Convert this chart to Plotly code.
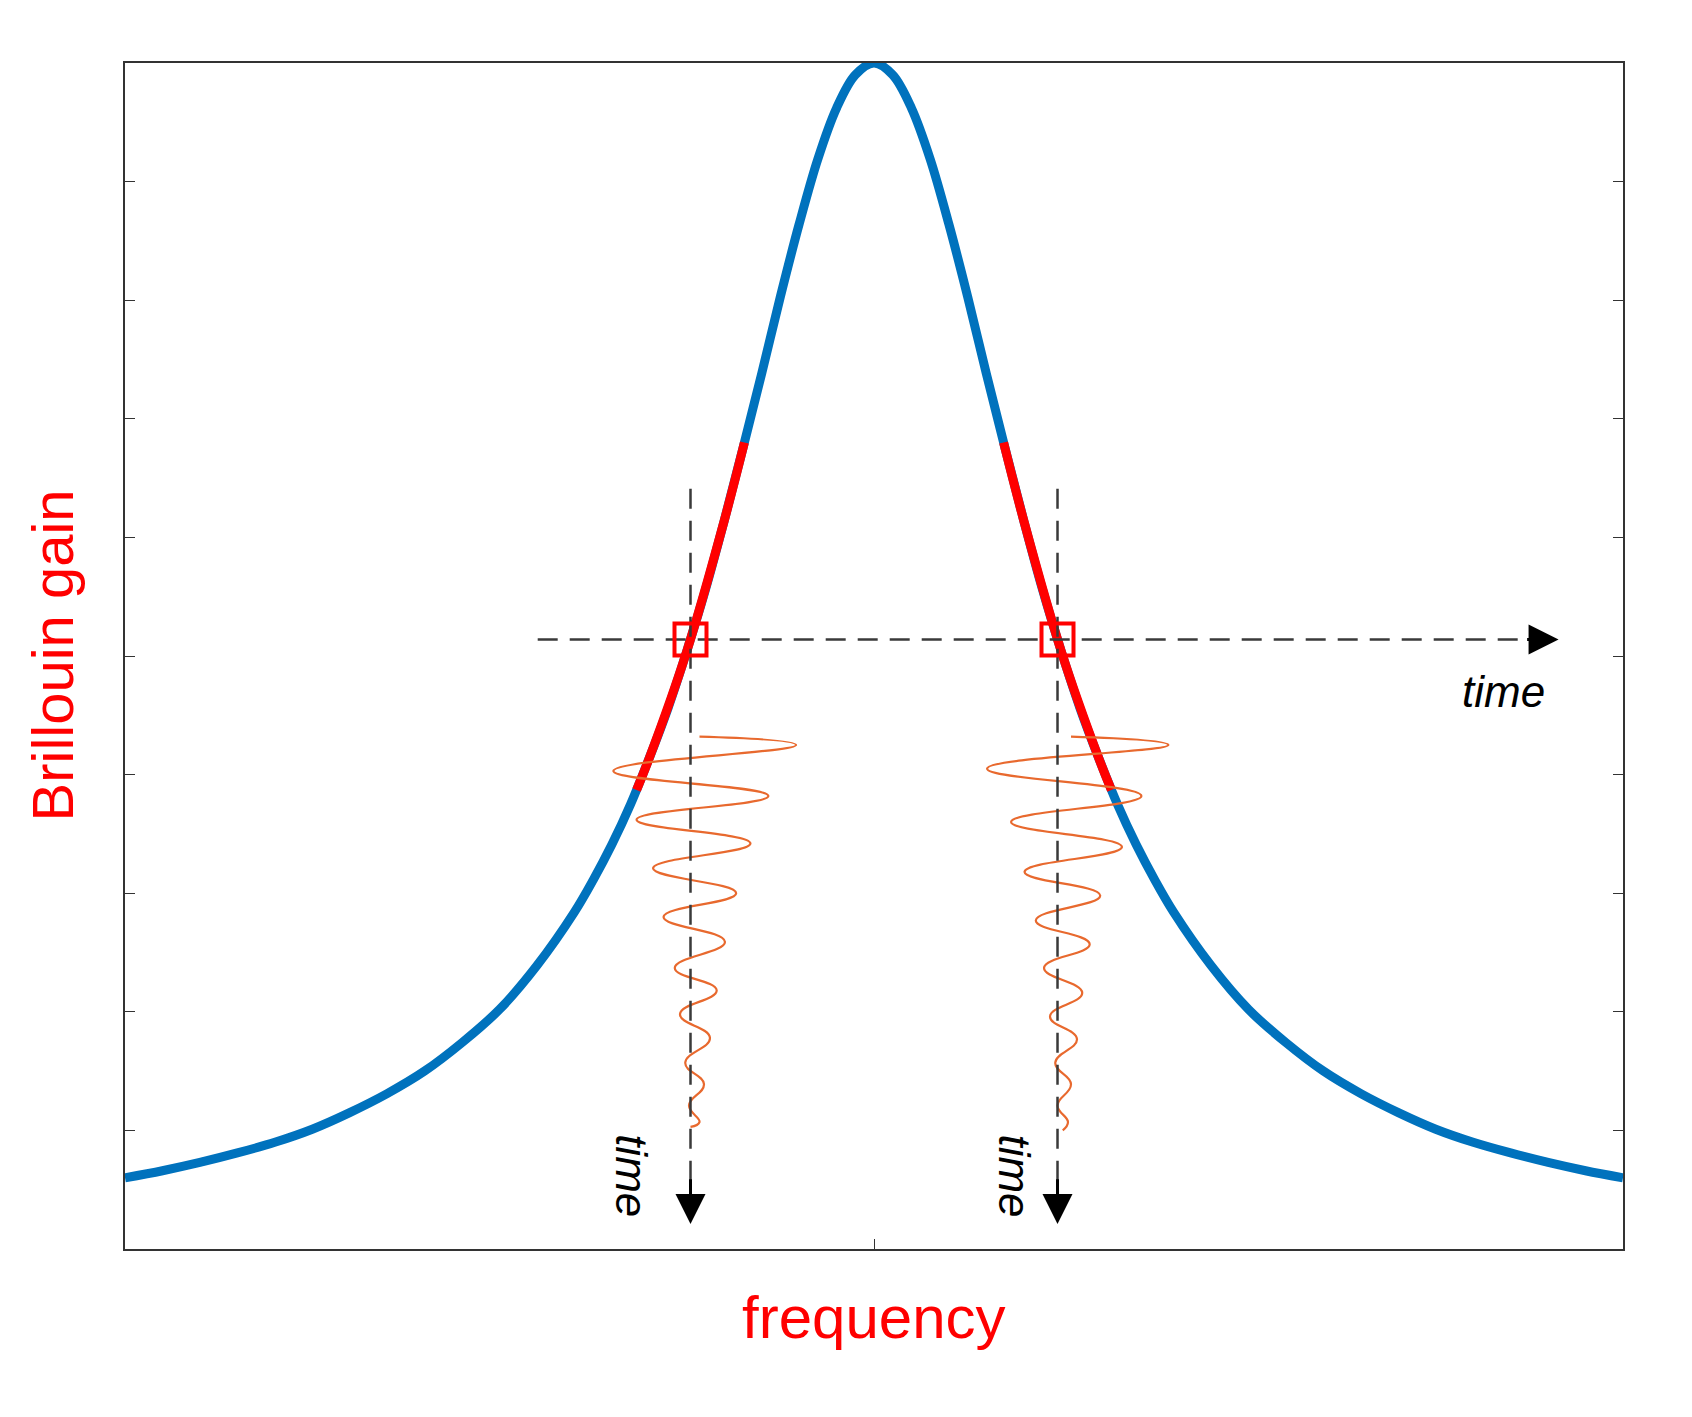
import plotly.graph_objects as go

# Brillouin gain profile
gain_x = [-10, -9.5, -9, -8.5, -8, -7.5, -7, -6.5, -6, -5.5, -5, -4.5, -4, -3.75, -3.5, -3.25, -3,
          -2.75, -2.5, -2.25, -2, -1.75, -1.5, -1.25, -1, -0.75, -0.5, -0.25, 0,
          0.25, 0.5, 0.75, 1, 1.25, 1.5, 1.75, 2, 2.25, 2.5, 2.75, 3, 3.25, 3.5, 3.75, 4,
          4.5, 5, 5.5, 6, 6.5, 7, 7.5, 8, 8.5, 9, 9.5, 10]
gain_y = [0.60, 0.66, 0.73, 0.81, 0.90, 1.01, 1.15, 1.31, 1.50, 1.74, 2.02, 2.39, 2.84, 3.11, 3.41,
          3.75, 4.14, 4.56, 5.04, 5.56, 6.14, 6.75, 7.38, 8.03, 8.64, 9.19, 9.62, 9.90, 10.0,
          9.90, 9.62, 9.19, 8.64, 8.03, 7.38, 6.75, 6.14, 5.56, 5.04, 4.56, 4.14, 3.75, 3.41,
          3.11, 2.84, 2.39, 2.02, 1.74, 1.50, 1.31, 1.15, 1.01, 0.90, 0.81, 0.73, 0.66, 0.60]

# highlighted slopes
red_left_x = [-3.17, -3.0, -2.5, -2.0, -1.73]
red_left_y = [3.87, 4.14, 5.04, 6.14, 6.80]
red_right_x = [1.73, 2.0, 2.5, 3.0, 3.17]
red_right_y = [6.80, 6.14, 5.04, 4.14, 3.87]

# operating points
op_x = [-2.45, 2.45]
op_y = [5.14, 5.14]

# damped oscillations along the time axes
wave_l_x = [-2.33, -1.04, -3.48, -1.41, -3.17, -1.65, -2.95, -1.84, -2.81, -1.99, -2.66, -2.10,
            -2.59, -2.19, -2.52, -2.27, -2.47, -2.33, -2.45]
wave_l_y = [4.32, 4.25, 4.03, 3.82, 3.62, 3.42, 3.21, 3.00, 2.80, 2.59, 2.37, 2.18, 1.98, 1.78,
            1.57, 1.39, 1.21, 1.07, 1.03]
wave_r_x = [2.63, 3.93, 1.51, 3.57, 1.83, 3.31, 2.01, 3.02, 2.16, 2.88, 2.27, 2.78, 2.35, 2.71,
            2.42, 2.63, 2.45, 2.59, 2.52]
wave_r_y = [4.32, 4.25, 4.05, 3.82, 3.60, 3.39, 3.18, 2.98, 2.77, 2.57, 2.37, 2.16, 1.96, 1.77,
            1.57, 1.39, 1.21, 1.07, 1.00]

# dashed time axes
h_axis_x = [-4.49, 8.9]
h_axis_y = [5.14, 5.14]
v_top, v_bottom = 6.41, 0.45

BLUE = "#0072BD"
RED = "#FF0000"
ORANGE = "#E8692E"
DASH = "#3a3a3a"

fig = go.Figure()
fig.add_trace(go.Scatter(x=gain_x, y=gain_y, mode="lines", line=dict(color=BLUE, width=9, shape="spline")))
for rx, ry in [(red_left_x, red_left_y), (red_right_x, red_right_y)]:
    fig.add_trace(go.Scatter(x=rx, y=ry, mode="lines", line=dict(color=RED, width=9, shape="spline")))
for wx, wy in [(wave_l_x, wave_l_y), (wave_r_x, wave_r_y)]:
    fig.add_trace(go.Scatter(x=wx, y=wy, mode="lines",
                             line=dict(color=ORANGE, width=2.2, shape="spline", smoothing=1.3)))
fig.add_trace(go.Scatter(x=h_axis_x, y=h_axis_y, mode="lines",
                         line=dict(color=DASH, width=2.5, dash="20px,12px")))
for vx in op_x:
    fig.add_trace(go.Scatter(x=[vx, vx], y=[v_top, v_bottom], mode="lines",
                             line=dict(color=DASH, width=2.5, dash="20px,12px")))
fig.add_trace(go.Scatter(x=op_x, y=op_y, mode="markers",
                         marker=dict(symbol="square-open", size=32, color=RED, line=dict(width=4, color=RED))))

# arrowheads
arrows = [dict(x=9.14, y=5.14, ax=8.7, ay=5.14)]
for vx in op_x:
    arrows.append(dict(x=vx, y=0.21, ax=vx, ay=0.6))
for a in arrows:
    fig.add_annotation(x=a["x"], y=a["y"], ax=a["ax"], ay=a["ay"], xref="x", yref="y",
                       axref="x", ayref="y", text="", showarrow=True, arrowhead=2,
                       arrowsize=2, arrowwidth=3, arrowcolor="black")

tfont = dict(family="Liberation Sans", size=44, color="black", style="italic")
fig.add_annotation(x=8.4, y=4.7, text="time", showarrow=False, font=tfont, xref="x", yref="y")
for tx in [-3.24, 1.87]:
    fig.add_annotation(x=tx, y=0.62, text="time", showarrow=False, font=tfont, textangle=90,
                       xref="x", yref="y")

fig.add_annotation(x=0, y=0.5, xref="paper", yref="paper", text="Brillouin gain", showarrow=False,
                   xshift=-108, textangle=-90, font=dict(family="Liberation Sans", size=58, color=RED))
fig.add_annotation(x=0.5, y=0, xref="paper", yref="paper", text="frequency", showarrow=False,
                   yshift=-104, font=dict(family="Liberation Sans", size=60, color=RED))

fig.update_xaxes(range=[-10, 10], tickvals=[0], ticktext=[""], ticks="inside", ticklen=10,
                 showgrid=False, zeroline=False, showline=True, mirror=True, linecolor="#333", linewidth=2,
                 tickcolor="#333")
fig.update_yaxes(range=[0, 10], tickvals=list(range(1, 10)), ticktext=[""] * 9, ticks="inside", ticklen=10,
                 showgrid=False, zeroline=False, showline=True, mirror="allticks", linecolor="#333",
                 linewidth=2, tickcolor="#333")
fig.update_layout(width=1692, height=1417, showlegend=False, plot_bgcolor="white", paper_bgcolor="white",
                  margin=dict(l=117, r=77, t=55, b=176))

fig.write_html("out.html")
